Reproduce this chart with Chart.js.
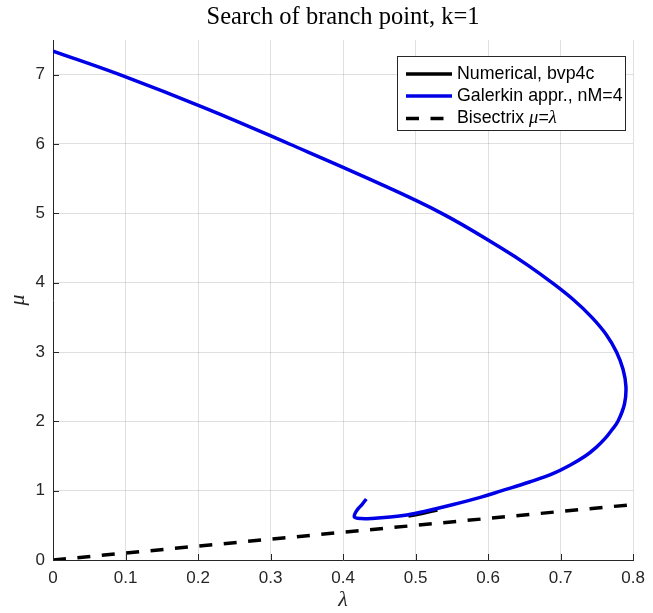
<!DOCTYPE html>
<html>
<head>
<meta charset="utf-8">
<script src="https://cdn.jsdelivr.net/npm/chart.js@4/dist/chart.umd.min.js"></script>
<style>
html,body{margin:0;padding:0;background:#fff;}
#wrap{width:653px;height:613px;position:relative;}
</style>
</head>
<body>
<div id="wrap"><canvas id="c" width="653" height="613"></canvas></div>
<script>
// ---- data (points ordered along the curve) ----
const lambdaGalerkin = [0, 0.092, 0.214, 0.326, 0.435, 0.536, 0.618, 0.655, 0.688, 0.718, 0.743, 0.763, 0.777, 0.786, 0.790, 0.788, 0.779, 0.7705, 0.761, 0.749, 0.734, 0.714, 0.690, 0.657, 0.619, 0.588, 0.552, 0.512, 0.488, 0.465, 0.440, 0.425, 0.416, 0.416, 0.420, 0.426, 0.432];
const muGalerkin     = [7.34, 7.0, 6.5, 6.0, 5.5, 5.0, 4.5, 4.25, 4.0, 3.75, 3.5, 3.25, 3.0, 2.75, 2.5, 2.25, 2.0, 1.875, 1.75, 1.625, 1.5, 1.375, 1.25, 1.125, 1.0, 0.9, 0.8, 0.7, 0.65, 0.62, 0.60, 0.598, 0.615, 0.66, 0.73, 0.80, 0.88];
const lambdaNumerical = [0.49, 0.51, 0.53];
const muNumerical     = [0.633, 0.675, 0.72];
const lambdaBisectrix = [0, 0.8];
const muBisectrix     = [0, 0.8];
const xTickValues = [0, 0.1, 0.2, 0.3, 0.4, 0.5, 0.6, 0.7, 0.8];
const yTickValues = [0, 1, 2, 3, 4, 5, 6, 7];
const titleText = 'Search of branch point, k=1';
const seriesNames = ['Numerical, bvp4c', 'Galerkin appr., nM=4', 'Bisectrix '];

const toPts = (xs, ys) => xs.map((x, i) => ({x: x, y: ys[i]}));
const axisColor = '#262626';
const sansFont = '"Liberation Sans", Arial, sans-serif';
const serifFont = '"Liberation Serif", "Times New Roman", serif';

const datasets = [
  {label: seriesNames[0], data: toPts(lambdaNumerical, muNumerical), borderColor: '#000000', borderWidth: 3.5, showLine: true, pointRadius: 0, tension: 0.3, order: 3, fill: false},
  {label: seriesNames[1], data: toPts(lambdaGalerkin, muGalerkin), borderColor: '#0000e6', borderWidth: 3.5, showLine: true, pointRadius: 0, tension: 0.4, order: 2, fill: false},
  {label: seriesNames[2], data: toPts(lambdaBisectrix, muBisectrix), borderColor: '#000000', borderWidth: 3.5, borderDash: [13, 11.5], showLine: true, pointRadius: 0, order: 1, fill: false}
];

const decorPlugin = {
  id: 'decor',
  afterDraw(chart) {
    const ctx = chart.ctx;
    const ca = chart.chartArea;
    const xs = chart.scales.x, ys = chart.scales.y;
    ctx.save();
    // inward ticks
    ctx.strokeStyle = axisColor; ctx.lineWidth = 1;
    xTickValues.forEach(v => {
      const px = Math.round(xs.getPixelForValue(v)) + 0.5;
      ctx.beginPath(); ctx.moveTo(px, ca.bottom); ctx.lineTo(px, ca.bottom - 6); ctx.stroke();
    });
    yTickValues.forEach(v => {
      const py = Math.round(ys.getPixelForValue(v)) + 0.5;
      ctx.beginPath(); ctx.moveTo(ca.left, py); ctx.lineTo(ca.left + 6, py); ctx.stroke();
    });
    // title
    ctx.fillStyle = '#000';
    ctx.font = '24.5px ' + serifFont;
    ctx.textAlign = 'center'; ctx.textBaseline = 'middle';
    ctx.fillText(titleText, (ca.left + ca.right) / 2, 18);
    // axis labels
    ctx.fillStyle = axisColor;
    ctx.font = 'italic 22px ' + serifFont;
    ctx.fillText('\u03BB', (ca.left + ca.right) / 2, 600);
    ctx.save();
    ctx.translate(18, (ca.top + ca.bottom) / 2);
    ctx.rotate(-Math.PI / 2);
    ctx.fillText('\u03BC', 0, 0);
    ctx.restore();
    // legend
    const bx = 397.5, by = 56.5, bw = 228, bh = 74;
    ctx.fillStyle = '#fff';
    ctx.fillRect(bx, by, bw, bh);
    ctx.strokeStyle = axisColor; ctx.lineWidth = 1;
    ctx.strokeRect(bx, by, bw, bh);
    const rows = [74, 96, 118.5];
    chart.data.datasets.forEach((ds, i) => {
      const y = rows[i];
      ctx.save();
      ctx.strokeStyle = ds.borderColor; ctx.lineWidth = 3.5;
      ctx.setLineDash(ds.borderDash || []);
      ctx.beginPath(); ctx.moveTo(406, y); ctx.lineTo(452, y); ctx.stroke();
      ctx.restore();
      ctx.fillStyle = '#000';
      ctx.font = '17.8px ' + sansFont;
      ctx.textAlign = 'left'; ctx.textBaseline = 'middle';
      ctx.fillText(ds.label, 457, y);
      if (i === 2) {
        let x = 457 + ctx.measureText(ds.label).width;
        ctx.font = 'italic 18.5px ' + serifFont;
        ctx.fillText('\u03BC', x, y); x += ctx.measureText('\u03BC').width;
        ctx.font = '17.8px ' + sansFont;
        ctx.fillText('=', x, y); x += ctx.measureText('=').width;
        ctx.font = 'italic 18.5px ' + serifFont;
        ctx.fillText('\u03BB', x, y);
      }
    });
    ctx.restore();
  }
};

new Chart(document.getElementById('c'), {
  type: 'scatter',
  data: {datasets: datasets},
  options: {
    responsive: false,
    animation: false,
    layout: {padding: {top: 40, right: 13, left: 0, bottom: 0}},
    plugins: {legend: {display: false}, tooltip: {enabled: false}, title: {display: false}},
    scales: {
      x: {
        type: 'linear', min: 0, max: 0.8,
        afterBuildTicks: s => { s.ticks = xTickValues.map(v => ({value: v})); },
        afterFit: s => { s.height = 53; },
        ticks: {color: axisColor, font: {family: sansFont, size: 17}, padding: 8, maxRotation: 0,
                callback: v => String(Math.round(v * 10) / 10)},
        grid: {color: 'rgba(0,0,0,0.12)', drawTicks: false},
        border: {display: true, color: axisColor, width: 1}
      },
      y: {
        type: 'linear', min: 0, max: 7.5,
        afterBuildTicks: s => { s.ticks = yTickValues.map(v => ({value: v})); },
        afterFit: s => { s.width = 53; },
        ticks: {color: axisColor, font: {family: sansFont, size: 17}, padding: 8,
                callback: v => String(v)},
        grid: {color: 'rgba(0,0,0,0.12)', drawTicks: false},
        border: {display: true, color: axisColor, width: 1}
      }
    }
  },
  plugins: [decorPlugin]
});
</script>
</body>
</html>
